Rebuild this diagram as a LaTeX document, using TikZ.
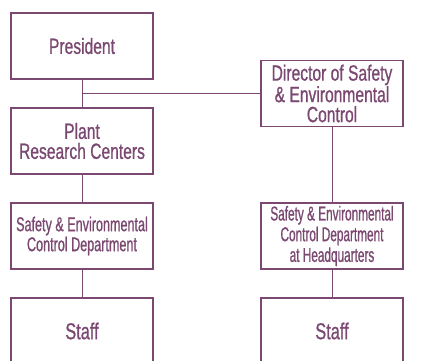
\documentclass[tikz,border=0pt]{standalone}
\usepackage{fontspec}
\setmainfont{Liberation Sans}[FakeStretch=0.71, FakeBold=0.8]
\newfontfamily\deptfont{Liberation Sans}[FakeStretch=0.63, FakeBold=0.8]
\newfontfamily\hqfont{Liberation Sans}[FakeStretch=0.59, FakeBold=0.8]
\definecolor{plum}{RGB}{122,72,112}
\begin{document}
\begin{tikzpicture}[x=1pt,y=-1pt]

  \tikzstyle{box}=[draw=plum, line width=1.4pt, text=plum, align=center,
    minimum width=142pt, minimum height=66pt, inner sep=0pt,
    font=\fontsize{22}{20}\selectfont]
  \tikzstyle{link}=[draw=plum, line width=1pt]
  \path [use as bounding box, clip] (0,0) rectangle (423,361);
  \node [box] (pres) at (82,46) {President};
  \node [box] (plant) at (82,141) {Plant\\Research Centers};
  \node [box, font=\deptfont\fontsize{20}{20}\selectfont] (dept) at (82,236) {Safety \& Environmental\\Control Department};
  \node [box, font=\fontsize{23}{23}\selectfont] (staffl) at (82,331) {Staff};
  \node [box] (dir) at (332,93.5) {Director of Safety\\\& Environmental\\Control};
  \node [box, font=\hqfont\fontsize{20}{20.7}\selectfont] (hq) at (332,236) {Safety \& Environmental\\Control Department\\at Headquarters};
  \node [box, font=\fontsize{23}{23}\selectfont] (staffr) at (332,331) {Staff};
  \coordinate (branch) at (pres.south |- dir.west);
  \draw [link] (pres) -- (plant);
  \draw [link] (branch) -- (dir.west);
  \draw [link] (plant) -- (dept);
  \draw [link] (dept) -- (staffl);
  \draw [link] (dir) -- (hq);
  \draw [link] (hq) -- (staffr);

\end{tikzpicture}
\end{document}
